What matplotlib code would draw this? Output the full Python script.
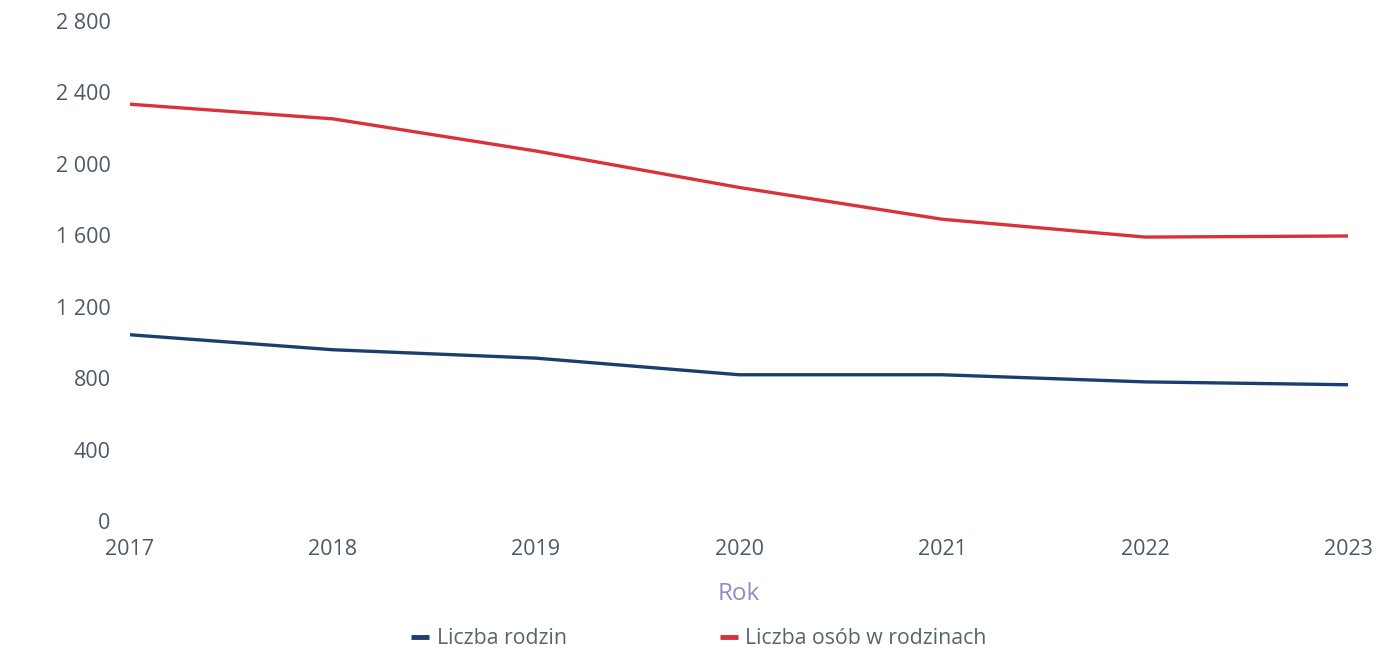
import matplotlib
matplotlib.use("Agg")
import matplotlib.pyplot as plt
from matplotlib.ticker import FuncFormatter

years = [2017, 2018, 2019, 2020, 2021, 2022, 2023]
rodziny = [1043, 959, 912, 819, 819, 779, 763]
osoby = [2334, 2252, 2072, 1868, 1690, 1590, 1596]
yticks = [0, 400, 800, 1200, 1600, 2000, 2400, 2800]

plt.rcParams['font.family'] = ['Open Sans', 'DejaVu Sans']

fig = plt.figure(figsize=(13.76, 6.49), dpi=100)
ax = fig.add_axes([130/1376, 1-521/649, (1348-130)/1376, 500/649])

blue = '#1c3e6e'
red = '#d8323a'
l1, = ax.plot(years, rodziny, color=blue, lw=2.4, solid_capstyle='round', solid_joinstyle='round', label='Liczba rodzin')
l2, = ax.plot(years, osoby, color=red, lw=2.4, solid_capstyle='round', solid_joinstyle='round', label='Liczba osób w rodzinach')

ax.set_xlim(2017, 2023)
ax.set_ylim(0, 2800)
ax.set_yticks(yticks)
ax.set_xticks(years)
ax.yaxis.set_major_formatter(FuncFormatter(lambda v, p: f"{int(v):,}".replace(",", " ")))
for s in ax.spines.values():
    s.set_visible(False)
tc = '#4b5a69'
ax.tick_params(axis='both', length=0, labelsize=15.5, colors=tc)
ax.tick_params(axis='y', pad=14)
ax.tick_params(axis='x', pad=13)

fig.text(739/1376, 1-594/649, 'Rok', ha='center', va='center', fontsize=17.5, color='#8a90c2')

leg = fig.legend(handles=[l1, l2], loc='center', bbox_to_anchor=(699/1376, 1-639/649), ncol=2,
                 frameon=False, fontsize=15.3, handlelength=0.85, handletextpad=0.35, columnspacing=7.2)
for t in leg.get_texts():
    t.set_color('#56646f')
for h in leg.legend_handles:
    h.set_linewidth(3.5)
    h.set_solid_capstyle('butt')

fig.savefig('out.png', dpi=100, facecolor='white')
